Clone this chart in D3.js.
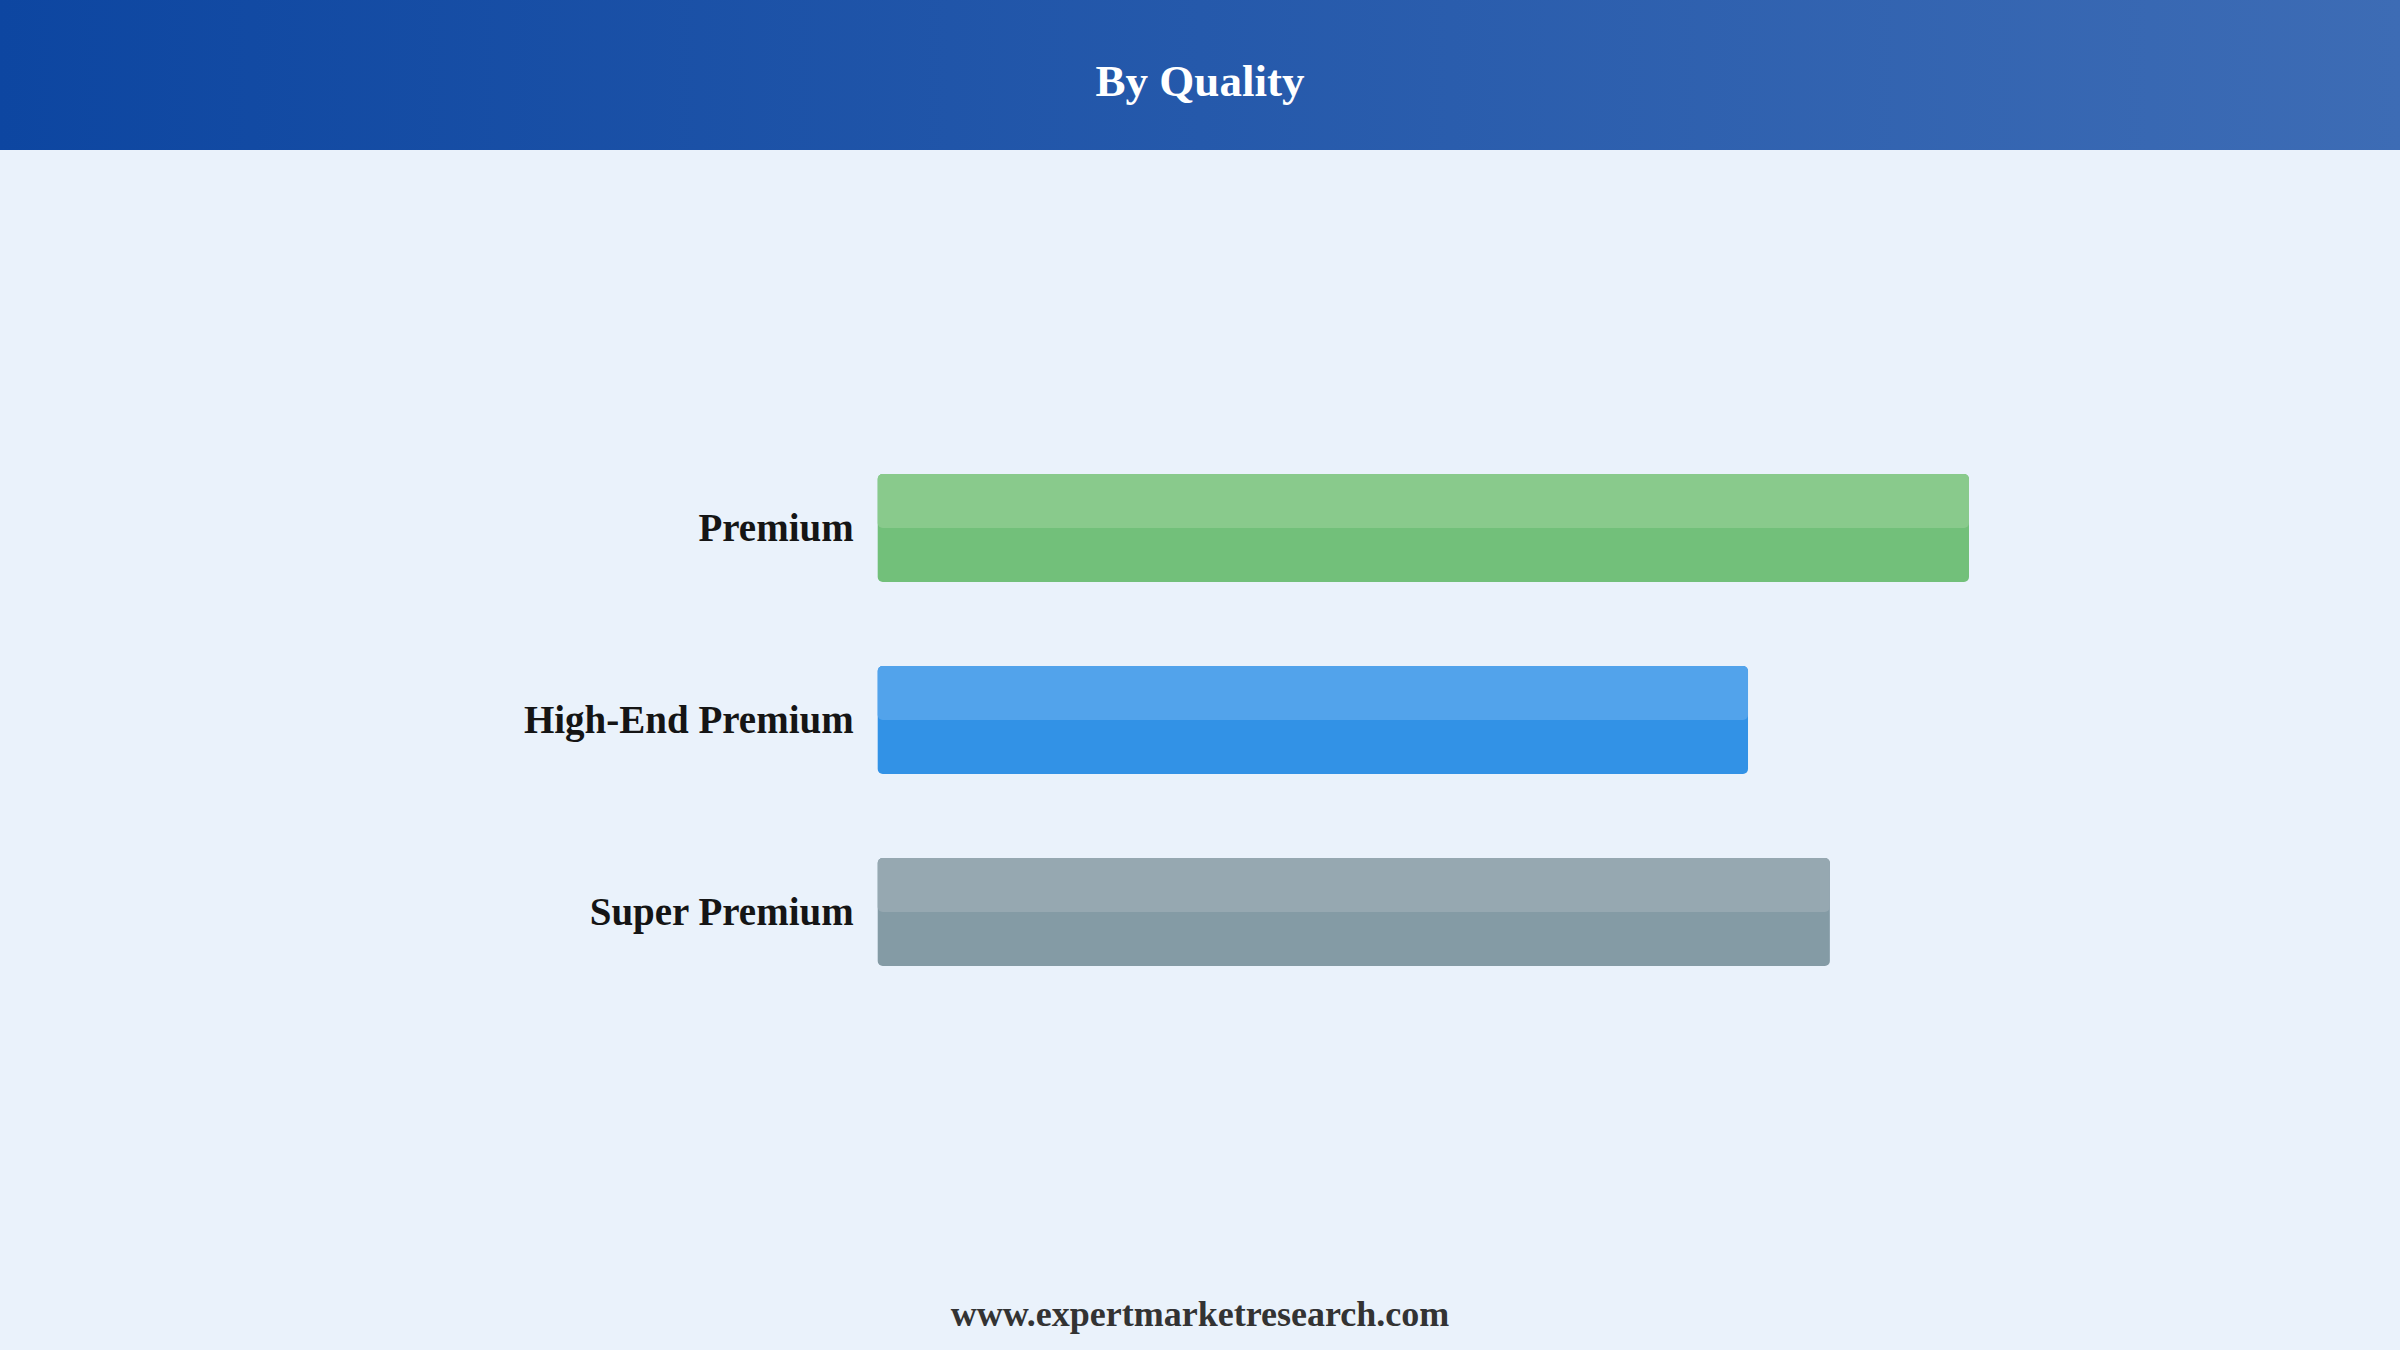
<!DOCTYPE html>
<html>
<head>
<meta charset="utf-8">
<script src="https://cdn.jsdelivr.net/npm/d3@7"></script>
<style>
  html, body { margin: 0; padding: 0; background: #EAF2FB; }
  svg { display: block; }
</style>
</head>
<body>
<svg id="chart" width="2400" height="1350"></svg>
<script>
const categories = ["Premium", "High-End Premium", "Super Premium"];
const values = [40, 31.9, 34.9];
const baseColors = ["#72C07A", "#3292E6", "#849BA5"];
const topColors = ["#89CA8C", "#52A3EB", "#96A8B1"];
const title = "By Quality";
const footer = "www.expertmarketresearch.com";

const W = 2400, H = 1350;
const svg = d3.select("#chart");

// background
svg.append("rect").attr("width", W).attr("height", H).attr("fill", "#EAF2FB");

// header gradient
const defs = svg.append("defs");
const grad = defs.append("linearGradient").attr("id", "hdr").attr("x1", "0%").attr("x2", "100%");
grad.append("stop").attr("offset", "0%").attr("stop-color", "#0D46A1");
grad.append("stop").attr("offset", "100%").attr("stop-color", "#3D6CB5");
svg.append("rect").attr("x", 0).attr("y", 0).attr("width", W).attr("height", 150).attr("fill", "url(#hdr)");

svg.append("text")
  .attr("x", W / 2).attr("y", 96)
  .attr("text-anchor", "middle")
  .attr("font-family", "'Liberation Serif', 'Times New Roman', serif")
  .attr("font-weight", "bold")
  .attr("font-size", 45)
  .attr("fill", "#FFFFFF")
  .text(title);

// scales
const x = d3.scaleLinear().domain([0, 40]).range([877.7, 1969]);
const y = d3.scaleBand().domain(categories).range([390, 1050]).paddingInner(0.4375).paddingOuter(0.4375);

const g = svg.append("g");
const bw = y.bandwidth();

const rows = g.selectAll("g.row").data(categories).join("g").attr("class", "row");

rows.append("rect")
  .attr("x", x(0))
  .attr("y", d => y(d))
  .attr("width", (d, i) => x(values[i]) - x(0))
  .attr("height", bw)
  .attr("rx", 5).attr("ry", 5)
  .attr("fill", (d, i) => baseColors[i]);

rows.append("rect")
  .attr("x", x(0))
  .attr("y", d => y(d))
  .attr("width", (d, i) => x(values[i]) - x(0))
  .attr("height", bw / 2)
  .attr("rx", 5).attr("ry", 5)
  .attr("fill", (d, i) => topColors[i]);

rows.append("text")
  .attr("x", x(0) - 24)
  .attr("y", d => y(d) + bw / 2 + 13)
  .attr("text-anchor", "end")
  .attr("font-family", "'Liberation Serif', 'Times New Roman', serif")
  .attr("font-weight", "bold")
  .attr("font-size", 39)
  .attr("fill", "#151515")
  .text(d => d);

svg.append("text")
  .attr("x", W / 2).attr("y", 1326)
  .attr("text-anchor", "middle")
  .attr("font-family", "'Liberation Serif', 'Times New Roman', serif")
  .attr("font-weight", "bold")
  .attr("font-size", 36)
  .attr("fill", "#333333")
  .text(footer);
</script>
</body>
</html>
